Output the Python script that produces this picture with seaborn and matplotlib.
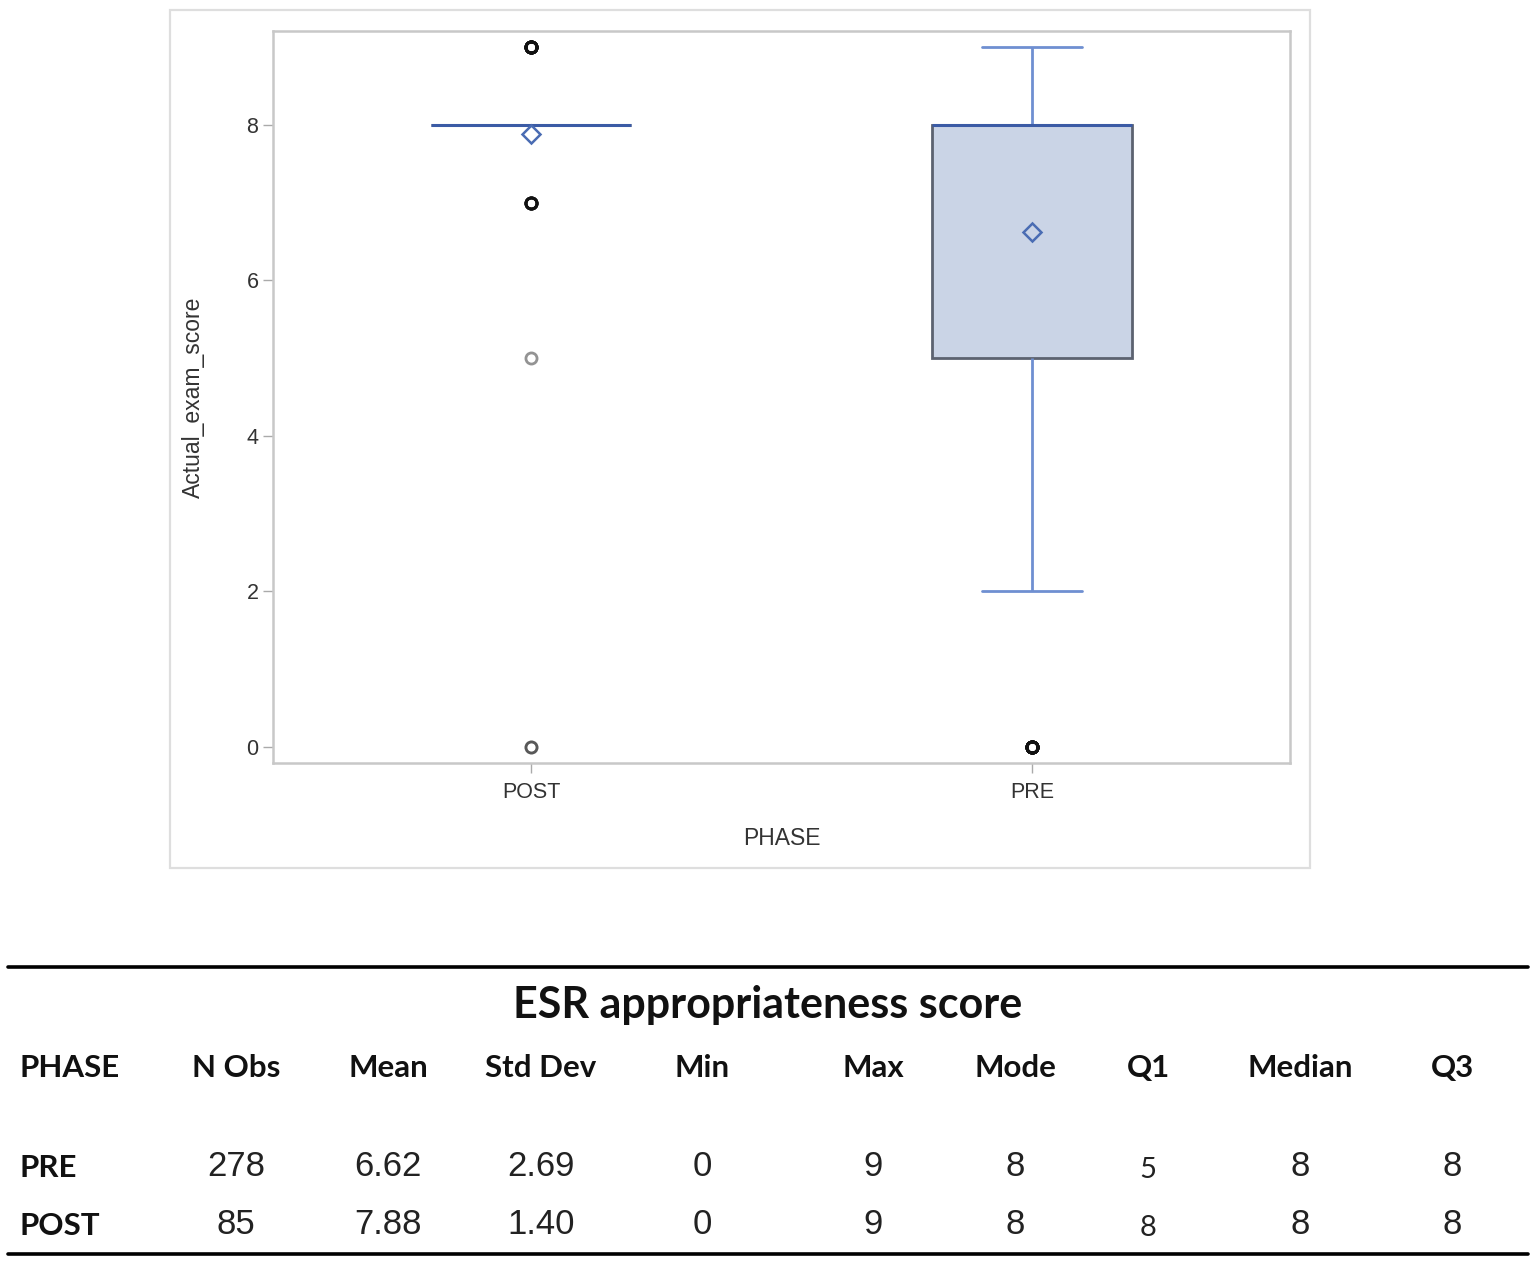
"""
ESR appropriateness: box plot of exam score by phase plus summary table.
"""
import matplotlib
matplotlib.use("Agg")
import matplotlib.pyplot as plt
import numpy as np
import pandas as pd
import seaborn as sns
from matplotlib.lines import Line2D
from matplotlib.patches import Rectangle

# score counts per phase (estimated so they reproduce the table below)
SCORES = [0, 1, 2, 3, 4, 5, 6, 7, 8, 9]
PRE_COUNTS = [25, 0, 6, 7, 12, 23, 16, 24, 105, 60]
POST_COUNTS = [2, 0, 0, 0, 0, 1, 0, 10, 53, 19]
PHASE_ORDER = ["POST", "PRE"]
Y_TICKS = [0, 2, 4, 6, 8]

# summary table
TABLE_TITLE = "ESR appropriateness score"
TABLE_HEADER = ["PHASE", "N Obs", "Mean", "Std Dev", "Min", "Max", "Mode", "Q1", "Median", "Q3"]
TABLE_PRE = ["PRE", "278", "6.62", "2.69", "0", "9", "8", "5", "8", "8"]
TABLE_POST = ["POST", "85", "7.88", "1.40", "0", "9", "8", "8", "8", "8"]

W, H = 1535, 1264


def build_frame():
    rows = []
    for phase, counts in (("PRE", PRE_COUNTS), ("POST", POST_COUNTS)):
        vals = np.repeat(SCORES, counts)
        rows.append(pd.DataFrame({"PHASE": phase, "Actual_exam_score": vals}))
    return pd.concat(rows, ignore_index=True)


def fx(px):
    return px / W


def fy(py):
    return 1 - py / H


df = build_frame()

sns.set_style("white")
plt.rcParams["font.family"] = ["Liberation Sans", "DejaVu Sans"]

fig = plt.figure(figsize=(W / 100, H / 100), dpi=100)

# light outer frame around the graph
fig.patches.append(Rectangle((fx(170), fy(868)), fx(1310) - fx(170), fy(10) - fy(868),
                             transform=fig.transFigure, fill=False,
                             edgecolor="#dedede", linewidth=1.6, zorder=0))

ax = fig.add_axes([fx(273), fy(763), fx(1290) - fx(273), fy(31) - fy(763)])

sns.boxplot(
    data=df, x="PHASE", y="Actual_exam_score", order=PHASE_ORDER,
    width=0.4, color="#cad4e6", saturation=1, linecolor="#5c6270",
    linewidth=2, whis=1.5, ax=ax,
    showmeans=True,
    meanprops=dict(marker="D", markersize=9, markerfacecolor="none",
                   markeredgecolor="#4a6cb3", markeredgewidth=1.8),
    medianprops=dict(color="#3b5ba5", linewidth=2.2),
    whiskerprops=dict(color="#6f8fd1", linewidth=2),
    capprops=dict(color="#6f8fd1", linewidth=2),
    flierprops=dict(marker="o", markersize=8, markerfacecolor="none",
                    markeredgecolor="#111111", markeredgewidth=2, alpha=0.45),
)

ax.set_xlim(-0.515, 1.515)
ax.set_ylim(-0.21, 9.21)
ax.set_yticks(Y_TICKS)
for sp in ax.spines.values():
    sp.set_visible(True)
    sp.set_color("#c8c8c8")
    sp.set_linewidth(1.8)
ax.tick_params(axis="both", colors="#333333", labelsize=15.5, length=7, width=1,
               direction="out", left=True, bottom=True)
ax.tick_params(axis="both", color="#aaaaaa")
ax.tick_params(axis="x", pad=7)
ax.set_xlabel("PHASE", fontsize=16.5, color="#333333")
ax.set_ylabel("Actual_exam_score", fontsize=16.5, color="#333333")
ax.yaxis.set_label_coords(-0.067, 0.5)
ax.xaxis.set_label_coords(0.5, -0.088)

# summary table below
fig.add_artist(Line2D([fx(8), fx(1528)], [fy(967), fy(967)], color="black", linewidth=2.6))
fig.add_artist(Line2D([fx(8), fx(1528)], [fy(1254), fy(1254)], color="black", linewidth=2.6))

fig.text(fx(768), fy(1005), TABLE_TITLE, ha="center", va="center",
         fontsize=31, fontweight="bold", family="Lato", color="#111111")

col_x = [20, 236, 388, 541, 702, 873, 1015, 1148, 1300, 1452]
for i, (x, head) in enumerate(zip(col_x, TABLE_HEADER)):
    ha = "left" if i == 0 else "center"
    fig.text(fx(x), fy(1068), head, ha=ha, va="center", fontsize=22.5,
             fontweight="bold", family="Lato", color="#111111")

for row, y in ((TABLE_PRE, 1166), (TABLE_POST, 1224)):
    for i, (x, val) in enumerate(zip(col_x, row)):
        if i == 0:
            fig.text(fx(x), fy(y + 2), val, ha="left", va="center", fontsize=22.5,
                     fontweight="bold", family="Lato", color="#111111")
        elif TABLE_HEADER[i] == "Q1":
            fig.text(fx(x), fy(y + 4), val, ha="center", va="center", fontsize=21,
                     family="Lato", color="#222222")
        else:
            fig.text(fx(x), fy(y), val, ha="center", va="center", fontsize=25,
                     color="#222222")

fig.savefig("out.png", dpi=100)
